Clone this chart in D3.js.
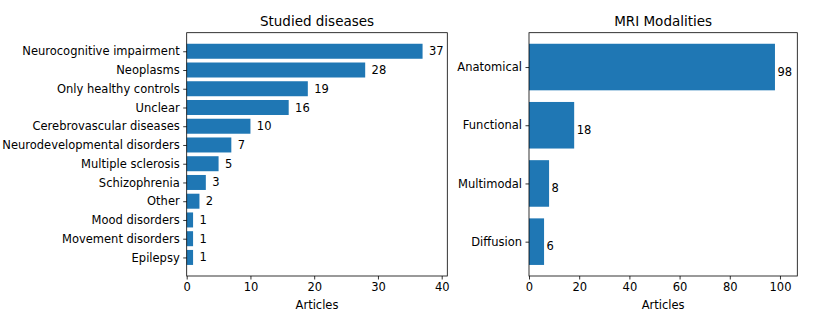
<!DOCTYPE html>
<html><head><meta charset="utf-8">
<script src="https://cdn.jsdelivr.net/npm/d3@7"></script>
<style>body{margin:0;background:#fff}svg{display:block}text{font-family:"DejaVu Sans",sans-serif;fill:#000}</style>
</head><body>
<svg id="c" width="814" height="326"></svg>
<script>
const diseaseCategories = ["Neurocognitive impairment","Neoplasms","Only healthy controls","Unclear","Cerebrovascular diseases","Neurodevelopmental disorders","Multiple sclerosis","Schizophrenia","Other","Mood disorders","Movement disorders","Epilepsy"];
const diseaseValues = [37,28,19,16,10,7,5,3,2,1,1,1];
const diseaseTicks = [0,10,20,30,40];
const modalityCategories = ["Anatomical","Functional","Multimodal","Diffusion"];
const modalityValues = [98,18,8,6];
const modalityTicks = [0,20,40,60,80,100];

const svg = d3.select("#c");
const color = "#1f77b4";
const fs = "11.5px";

function panel(opts){
  const {left,right,top,bottom,cats,vals,ticks,xmax,title,labelDy} = opts;
  const g = svg.append("g");
  const n = cats.length;
  const x = d3.scaleLinear().domain([0,xmax]).range([left,right]);
  const pad = 0.4 + 0.05*(n-1+0.8);
  const y = d3.scaleLinear().domain([-pad, n-1+pad]).range([top,bottom]);
  const bh = (y(0.8)-y(0));
  g.selectAll("rect.bar").data(vals).join("rect")
    .attr("x", x(0)).attr("y",(d,i)=>y(i)-bh/2)
    .attr("width",d=>x(d)-x(0)).attr("height",bh)
    .attr("fill",color);
  g.selectAll("text.val").data(vals).join("text")
    .attr("x",d=>x(d+1)).attr("y",(d,i)=>y(i+labelDy))
    .attr("dy","0.35em").attr("font-size",fs).text(d=>d);
  const xa = d3.axisBottom(x).tickValues(ticks).tickSize(3.5).tickPadding(3.5).tickFormat(d3.format("d"));
  const gx = g.append("g").attr("transform",`translate(0,${bottom})`).call(xa);
  const ya = d3.axisLeft(d3.scaleOrdinal().domain(cats).range(cats.map((c,i)=>y(i)))).tickSize(3.5).tickPadding(3.5);
  const gy = g.append("g").attr("transform",`translate(${left},0)`).call(ya);
  [gx,gy].forEach(a=>{
    a.select(".domain").remove();
    a.selectAll("text").attr("font-size",fs).attr("font-family","DejaVu Sans").attr("fill","#000");
    a.selectAll("line").attr("stroke","#000").attr("stroke-width",0.8);
  });
  g.append("rect").attr("x",left).attr("y",top).attr("width",right-left).attr("height",bottom-top)
    .attr("fill","none").attr("stroke","#000").attr("stroke-width",0.8);
  g.append("text").attr("x",(left+right)/2).attr("y",top-7).attr("text-anchor","middle")
    .attr("font-size","13.5px").text(title);
  g.append("text").attr("x",(left+right)/2).attr("y",bottom+33).attr("text-anchor","middle")
    .attr("font-size",fs).text("Articles");
}

panel({left:186.7,right:447.3,top:32.7,bottom:276,cats:diseaseCategories,vals:diseaseValues,ticks:diseaseTicks,xmax:40.88,title:"Studied diseases",labelDy:0});
panel({left:529,right:797.3,top:32.7,bottom:276,cats:modalityCategories,vals:modalityValues,ticks:modalityTicks,xmax:106.9,title:"MRI Modalities",labelDy:0.08});
</script>
</body></html>
